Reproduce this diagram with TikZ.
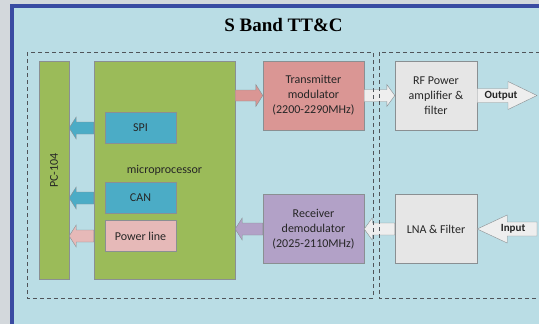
\documentclass[tikz,border=0pt]{standalone}
\usepackage{fontspec}
\setmainfont{Carlito}
\newfontfamily\titlefont{Liberation Serif}
\usetikzlibrary{positioning,calc}

\definecolor{pagegrey}{HTML}{D3D8DC}
\definecolor{framefill}{HTML}{BADDE5}
\definecolor{framedge}{HTML}{3A4BA2}
\definecolor{boardgreen}{HTML}{9BBB59}
\definecolor{busteal}{HTML}{4BACC6}
\definecolor{powerpink}{HTML}{E6B9B8}
\definecolor{txsalmon}{HTML}{DA9694}
\definecolor{rxpurple}{HTML}{B2A1C7}
\definecolor{rfgrey}{HTML}{E6E6E6}
\definecolor{pipegrey}{HTML}{EEEEEE}
\definecolor{edgegrey}{HTML}{8A8F92}
\definecolor{inkgrey}{HTML}{262626}
\definecolor{dashgrey}{HTML}{505459}

% horizontal block arrow: fill, from, to, shaft half, head half, head length
\newcommand\blockarrow[6]{%
  \draw[arrowedge, fill=#1] let \p1=(#2), \p2=(#3), \p3=($(#3)!#6!(#2)$) in
    (\x1,\y1+#4) -- (\x3,\y1+#4) -- (\x3,\y1+#5) -- (\x2,\y1)
    -- (\x3,\y1-#5) -- (\x3,\y1-#4) -- (\x1,\y1-#4) -- cycle;}

\begin{document}
\begin{tikzpicture}[x=1pt,y=-1pt,on grid,
                    font=\fontsize{12}{15}\selectfont,text=inkgrey]
    \tikzset{
      block/.style={
        draw=edgegrey,
        line width=0.4pt,
        align=center,
        inner sep=0pt
      },
      bus/.style={
        block,
        minimum width=71pt,
        minimum height=31pt
      },
      chain/.style={
        block,
        minimum height=69pt
      },
      arrowedge/.style={
        draw=edgegrey,
        line width=0.4pt
      },
      groupbox/.style={
        draw=dashgrey,
        line width=0.9pt,
        dash pattern=on 4pt off 3pt
      }
    }

    \useasboundingbox (0,0) rectangle (539,324);
    \fill[pagegrey] (0,0) rectangle (539,324);
    \draw[framedge, line width=4pt, fill=framefill] (11.5,6) rectangle (570,340);

    \node[font=\titlefont\bfseries\fontsize{19}{22}\selectfont, text=black]
        (title) at (283.5,25) {S Band TT\&C};

    % Onboard computer side
    \node [block, fill=boardgreen, minimum width=141pt, minimum height=218pt]
        (micro) at (164.5,170.5) {microprocessor};
    \node [block, fill=boardgreen, minimum width=30pt, minimum height=218pt]
        (pc) [left=110.5pt of micro] {};
    \node [rotate=90] (pclabel) at (pc) {PC-104};
    \node [bus, fill=busteal]   (spi)   [above left=42.5pt and 24pt of micro] {SPI};
    \node [bus, fill=busteal]   (can)   [below=70pt of spi] {CAN};
    \node [bus, fill=powerpink] (power) [below=38pt of can] {Power line};

    % Radio chain
    \node [chain, fill=txsalmon, minimum width=101pt] (tx)
        [above right=75pt and 149pt of micro] {Transmitter\\modulator\\(2200-2290MHz)};
    \node [chain, fill=rxpurple, minimum width=101pt] (rx)
        [below=133.5pt of tx] {Receiver\\demodulator\\(2025-2110MHz)};
    \node [chain, fill=rfgrey, minimum width=82pt] (rf)
        [right=122.5pt of tx] {RF Power\\amplifier \&\\filter};
    \node [chain, fill=rfgrey, minimum width=82pt] (lna)
        [right=122.5pt of rx] {LNA \& Filter};
    \coordinate [right=101pt of rf]  (outend);
    \coordinate [right=101pt of lna] (inend);

    % Bus arrows
    \blockarrow{busteal}{spi -| micro.west}{spi -| pc.east}{6pt}{11pt}{7pt}
    \blockarrow{busteal}{can -| micro.west}{can -| pc.east}{6pt}{11pt}{7pt}
    \blockarrow{powerpink}{power -| micro.west}{power -| pc.east}{6pt}{11pt}{7pt}

    % Signal arrows
    \blockarrow{txsalmon}{tx -| micro.east}{tx.west}{5.5pt}{11pt}{7pt}
    \blockarrow{pipegrey}{tx.east}{rf.west}{6pt}{11pt}{8pt}
    \blockarrow{pipegrey}{lna.west}{rx.east}{6pt}{11pt}{8pt}
    \blockarrow{rxpurple}{rx.west}{rx -| micro.east}{6pt}{11pt}{7pt}
    \blockarrow{pipegrey}{rf.east}{outend}{7pt}{14pt}{29pt}
    \blockarrow{pipegrey}{inend}{lna.east}{7pt}{14pt}{30pt}
    \node[font=\bfseries\fontsize{11}{13}\selectfont] (outlabel)
        at ($(rf.east)!0.4!(outend)$) {Output};
    \node[font=\bfseries\fontsize{11}{13}\selectfont] (inlabel)
        at ($(inend)!0.4!(lna.east)$) {Input};

    % Subsystem groups
    \draw[groupbox] (27,52) rectangle (373,298);
    \draw[groupbox] (379,52) rectangle (560,298);
\end{tikzpicture}
\end{document}
